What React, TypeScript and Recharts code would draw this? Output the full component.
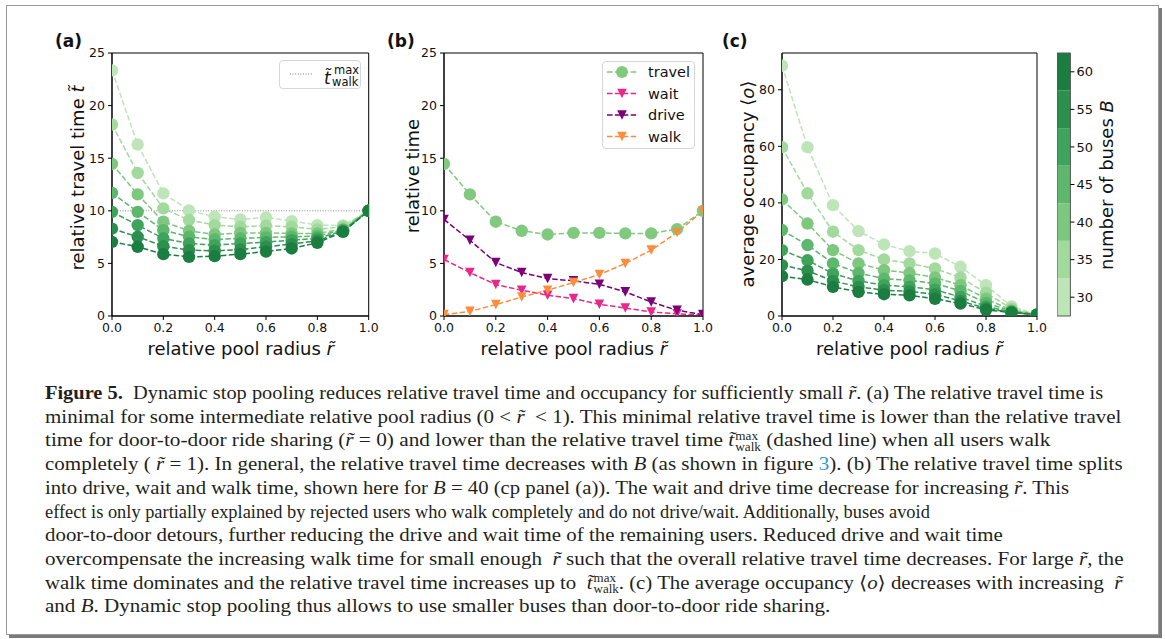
import React, { useLayoutEffect, useRef, useState } from 'react'
import { LineChart, Line, XAxis, YAxis, ReferenceLine, ReferenceArea, ComposedChart } from 'recharts'

// pool radius values (x) shared by all panels
const R = [0, 0.1, 0.2, 0.3, 0.4, 0.5, 0.6, 0.7, 0.8, 0.9, 1.0]
const X_TICKS = [0, 0.2, 0.4, 0.6, 0.8, 1.0]

// number of buses B and their colormap colours (light -> dark)
const BUSES = [30, 35, 40, 45, 50, 55, 60]
const BUS_COLORS = ['#bde5b8', '#a2d99c', '#7dc87e', '#5db76c', '#3fa45b', '#2c8f4e', '#1b7d3f']

// (a) relative travel time per B
const travelB30 = [23.35, 16.3, 11.66, 10.04, 9.43, 9.18, 9.37, 9.02, 8.64, 8.6, 10.0]
const travelB35 = [18.2, 13.6, 10.23, 9.12, 8.64, 8.48, 8.58, 8.48, 8.23, 8.5, 10.0]
const travelB40 = [14.45, 11.56, 8.96, 8.1, 7.75, 7.9, 7.9, 7.85, 7.85, 8.26, 10.0]
const travelB45 = [11.7, 9.9, 8.16, 7.53, 7.27, 7.37, 7.47, 7.53, 7.59, 8.2, 10.0]
const travelB50 = [9.9, 8.64, 7.37, 6.9, 6.73, 6.89, 7.02, 7.21, 7.37, 8.1, 10.0]
const travelB55 = [8.3, 7.53, 6.64, 6.26, 6.19, 6.32, 6.58, 6.83, 7.15, 8.05, 10.0]
const travelB60 = [7.05, 6.58, 5.88, 5.62, 5.69, 5.88, 6.13, 6.42, 6.96, 8.0, 10.0]
const T_WALK_MAX = 10

// (b) time split for B = 40
const waitB40 = [5.37, 4.13, 2.99, 2.45, 1.97, 1.65, 1.11, 0.76, 0.38, 0.22, 0.06]
const driveB40 = [9.18, 7.2, 5.08, 4.13, 3.56, 3.34, 3.02, 2.29, 1.33, 0.54, 0.13]
const walkB40 = [0.13, 0.44, 1.08, 1.81, 2.45, 3.18, 3.94, 4.99, 6.26, 7.94, 10.0]

// (c) average occupancy per B
const occB30 = [88.5, 59.7, 39.2, 30.0, 25.3, 22.9, 22.1, 17.4, 10.9, 3.4, 0.6]
const occB35 = [59.7, 43.4, 29.8, 23.3, 20.0, 18.6, 16.8, 13.6, 8.2, 2.6, 0.6]
const occB40 = [41.2, 32.7, 23.3, 18.6, 16.2, 15.2, 13.6, 10.9, 6.1, 2.0, 0.5]
const occB45 = [30.4, 25.1, 18.6, 15.2, 13.2, 12.6, 11.5, 8.9, 4.6, 1.7, 0.5]
const occB50 = [23.3, 19.7, 15.0, 12.4, 10.9, 10.3, 9.3, 6.7, 3.4, 1.4, 0.5]
const occB55 = [18.0, 16.0, 12.4, 10.3, 9.1, 8.7, 7.7, 5.3, 2.7, 1.3, 0.5]
const occB60 = [14.1, 12.9, 10.3, 8.5, 7.7, 7.3, 6.1, 4.4, 2.2, 1.2, 0.5]

const TRAVEL = [travelB30, travelB35, travelB40, travelB45, travelB50, travelB55, travelB60]
const OCC = [occB30, occB35, occB40, occB45, occB50, occB55, occB60]

const travelRows = R.map((r, i) => {
  const row: Record<string, number> = { r }
  BUSES.forEach((b, k) => (row[`b${b}`] = TRAVEL[k][i]))
  return row
})
const occRows = R.map((r, i) => {
  const row: Record<string, number> = { r }
  BUSES.forEach((b, k) => (row[`b${b}`] = OCC[k][i]))
  return row
})
const splitRows = R.map((r, i) => ({
  r,
  travel: travelB40[i],
  wait: waitB40[i],
  drive: driveB40[i],
  walk: walkB40[i],
}))

const SANS = '"DejaVu Sans", sans-serif'
const SERIF = '"Liberation Serif", "DejaVu Serif", serif'
const C_TRAVEL = '#80c97f'
const C_WAIT = '#e7298a'
const C_DRIVE = '#7a0177'
const C_WALK = '#fd8d3c'
const DASH = '5.5 2.4'

const PLOT_TOP = 53
const PLOT_H = 263
const AX_W = 60
const AX_H = 60
const PAD = 10

const tickStyle = { fontSize: 12.5, fill: '#111', fontFamily: SANS }

function TriDown(props: any) {
  const { cx, cy, fill } = props
  if (cx == null || cy == null) return null
  const h = 4.8
  return <path d={`M${cx - h},${cy - h}L${cx + h},${cy - h}L${cx},${cy + h}Z`} fill={fill} />
}

function chartBox(plotLeft: number, plotW: number) {
  return {
    style: { position: 'absolute' as const, left: plotLeft - AX_W, top: PLOT_TOP - PAD },
    width: plotW + AX_W + PAD,
    height: PLOT_H + PAD + AX_H,
    margin: { top: PAD, right: PAD, bottom: 0, left: 0 },
  }
}

function PanelA() {
  const b = chartBox(112.3, 256.7)
  return (
    <div style={b.style}>
      <LineChart width={b.width} height={b.height} data={travelRows} margin={b.margin}>
        <XAxis dataKey="r" type="number" domain={[0, 1]} ticks={X_TICKS} allowDataOverflow
          tickFormatter={(v) => v.toFixed(1)} height={AX_H} tickSize={4} tickMargin={3}
          stroke="#000" tick={tickStyle} />
        <YAxis type="number" domain={[0, 25]} ticks={[0, 5, 10, 15, 20, 25]} allowDataOverflow
          width={AX_W} tickSize={4} tickMargin={3} stroke="#000" tick={tickStyle} />
        <ReferenceLine y={T_WALK_MAX} stroke="#888" strokeDasharray="1 1.6" strokeWidth={1} />
        {BUSES.map((bus, k) => (
          <Line key={bus} dataKey={`b${bus}`} stroke={BUS_COLORS[k]} strokeWidth={1.5}
            strokeDasharray={DASH} isAnimationActive={false} activeDot={false}
            dot={{ r: 6.2, fill: BUS_COLORS[k], stroke: BUS_COLORS[k], strokeWidth: 0 }} />
        ))}
        <ReferenceArea x1={0} x2={1} y1={0} y2={25} fill="none" stroke="#000" strokeWidth={1} />
      </LineChart>
    </div>
  )
}

function PanelB() {
  const b = chartBox(444.3, 259)
  const series = [
    { key: 'travel', color: C_TRAVEL, tri: false },
    { key: 'wait', color: C_WAIT, tri: true },
    { key: 'drive', color: C_DRIVE, tri: true },
    { key: 'walk', color: C_WALK, tri: true },
  ]
  return (
    <div style={b.style}>
      <LineChart width={b.width} height={b.height} data={splitRows} margin={b.margin}>
        <XAxis dataKey="r" type="number" domain={[0, 1]} ticks={X_TICKS} allowDataOverflow
          tickFormatter={(v) => v.toFixed(1)} height={AX_H} tickSize={4} tickMargin={3}
          stroke="#000" tick={tickStyle} />
        <YAxis type="number" domain={[0, 25]} ticks={[0, 5, 10, 15, 20, 25]} allowDataOverflow
          width={AX_W} tickSize={4} tickMargin={3} stroke="#000" tick={tickStyle} />
        {series.map((s) => (
          <Line key={s.key} dataKey={s.key} stroke={s.color} strokeWidth={1.5}
            strokeDasharray={DASH} isAnimationActive={false} activeDot={false}
            dot={s.tri ? <TriDown fill={s.color} /> : { r: 6.2, fill: s.color, stroke: s.color, strokeWidth: 0 }} />
        ))}
        <ReferenceArea x1={0} x2={1} y1={0} y2={25} fill="none" stroke="#000" strokeWidth={1} />
      </LineChart>
    </div>
  )
}

function PanelC() {
  const b = chartBox(781.7, 255)
  return (
    <div style={b.style}>
      <LineChart width={b.width} height={b.height} data={occRows} margin={b.margin}>
        <XAxis dataKey="r" type="number" domain={[0, 1]} ticks={X_TICKS} allowDataOverflow
          tickFormatter={(v) => v.toFixed(1)} height={AX_H} tickSize={4} tickMargin={3}
          stroke="#000" tick={tickStyle} />
        <YAxis type="number" domain={[0, 93]} ticks={[0, 20, 40, 60, 80]} allowDataOverflow
          width={AX_W} tickSize={4} tickMargin={3} stroke="#000" tick={tickStyle} />
        {BUSES.map((bus, k) => (
          <Line key={bus} dataKey={`b${bus}`} stroke={BUS_COLORS[k]} strokeWidth={1.5}
            strokeDasharray={DASH} isAnimationActive={false} activeDot={false}
            dot={{ r: 6.2, fill: BUS_COLORS[k], stroke: BUS_COLORS[k], strokeWidth: 0 }} />
        ))}
        <ReferenceArea x1={0} x2={1} y1={0} y2={93} fill="none" stroke="#000" strokeWidth={1} />
      </LineChart>
    </div>
  )
}

const cbRows = [{ x: 0, y: 45 }, { x: 1, y: 45 }]

function ColorBar() {
  return (
    <div style={{ position: 'absolute', left: 1057.3, top: PLOT_TOP - PAD }}>
      <ComposedChart width={13.4 + 40} height={PLOT_H + 2 * PAD} data={cbRows}
        margin={{ top: PAD, right: 0, bottom: PAD, left: 0 }}>
        <XAxis dataKey="x" type="number" domain={[0, 1]} hide />
        <YAxis orientation="right" type="number" domain={[27.5, 62.5]} ticks={BUSES}
          width={40} tickSize={4} tickMargin={2} stroke="#000" axisLine={false}
          tick={{ ...tickStyle, fontSize: 13 }} />
        {BUSES.map((bus, k) => (
          <ReferenceArea key={bus} x1={0} x2={1} y1={bus - 2.5} y2={bus + 2.5}
            fill={BUS_COLORS[k]} fillOpacity={1} stroke="none" />
        ))}
        <Line dataKey="y" stroke="none" dot={false} activeDot={false} isAnimationActive={false} />
        <ReferenceArea x1={0} x2={1} y1={27.5} y2={62.5} fill="none" stroke="#555" strokeWidth={1} />
      </ComposedChart>
    </div>
  )
}

function Titles() {
  const yTitle = (x: number, y: number, content: React.ReactNode) => (
    <text transform={`translate(${x},${y}) rotate(-90)`} textAnchor="middle" fontSize={18}>{content}</text>
  )
  return (
    <svg width={1165} height={639} style={{ position: 'absolute', left: 0, top: 0, pointerEvents: 'none' }}
      fontFamily={SANS} fill="#111">
      <text x={55} y={47} fontSize={17} fontWeight="bold">(a)</text>
      <text x={387} y={47} fontSize={17} fontWeight="bold">(b)</text>
      <text x={722} y={47} fontSize={17} fontWeight="bold">(c)</text>
      {[240.7, 573.8, 909.2].map((cx) => (
        <text key={cx} x={cx} y={355} textAnchor="middle" fontSize={18}>
          relative pool radius <tspan fontStyle="italic">{'r\u0303'}</tspan>
        </text>
      ))}
      {yTitle(84, 178, <>relative travel time <tspan fontStyle="italic">{'t\u0303'}</tspan></>)}
      {yTitle(419, 176, 'relative time')}
      {yTitle(754, 184, <>average occupancy ⟨<tspan fontStyle="italic">o</tspan>⟩</>)}
      {yTitle(1113, 185, <>number of buses <tspan fontStyle="italic">B</tspan></>)}
    </svg>
  )
}

function LegendA() {
  return (
    <div style={{ position: 'absolute', left: 279, top: 60, width: 82, height: 29, boxSizing: 'border-box',
      border: '1px solid #d6d6d6', borderRadius: 4, background: 'rgba(255,255,255,0.85)', fontFamily: SANS }}>
      <svg width={82} height={29} style={{ position: 'absolute', left: -1, top: -1 }}>
        <line x1={11} x2={34} y1={14} y2={14} stroke="#777" strokeDasharray="1 1.6" strokeWidth={1} />
        <text x={45} y={24} fontSize={17} fontStyle="italic" fill="#111">{'t\u0303'}</text>
        <text x={55} y={14} fontSize={11.5} fill="#111">max</text>
        <text x={53} y={26} fontSize={11.5} fill="#111">walk</text>
      </svg>
    </div>
  )
}

function LegendB() {
  const rows = [
    { label: 'travel', color: C_TRAVEL, tri: false },
    { label: 'wait', color: C_WAIT, tri: true },
    { label: 'drive', color: C_DRIVE, tri: true },
    { label: 'walk', color: C_WALK, tri: true },
  ]
  return (
    <div style={{ position: 'absolute', left: 602, top: 61, width: 93, height: 88, boxSizing: 'border-box',
      border: '1px solid #d6d6d6', borderRadius: 4, background: 'rgba(255,255,255,0.85)' }}>
      <svg width={93} height={88} style={{ position: 'absolute', left: -1, top: -1 }} fontFamily={SANS}>
        {rows.map((row, i) => {
          const y = 11 + i * 21.5
          return (
            <g key={row.label}>
              <line x1={5} x2={35} y1={y} y2={y} stroke={row.color} strokeWidth={1.5} strokeDasharray={DASH} />
              {row.tri ? <TriDown cx={20} cy={y} fill={row.color} /> : <circle cx={20} cy={y} r={6} fill={row.color} />}
              <text x={46} y={y + 5} fontSize={14.5} fill="#111">{row.label}</text>
            </g>
          )
        })}
      </svg>
    </div>
  )
}

const r = <i>{'r\u0303'}</i>
const tWalk = (
  <span style={{ whiteSpace: 'nowrap' }}>
    <i>{'t\u0303'}</i>
    <span style={{ display: 'inline-flex', flexDirection: 'column', fontSize: '0.62em', lineHeight: 0.95,
      verticalAlign: 'middle', marginLeft: 1 }}>
      <span>max</span>
      <span>walk</span>
    </span>
  </span>
)

// caption lines and the x where each one ends in the figure
const CAPTION: React.ReactNode[] = [
  <><b>Figure 5.</b>&nbsp; Dynamic stop pooling reduces relative travel time and occupancy for sufficiently small {r}. (a) The relative travel time is</>,
  <>minimal for some intermediate relative pool radius (0 &lt; {r} &nbsp;&lt; 1). This minimal relative travel time is lower than the relative travel</>,
  <>time for door-to-door ride sharing ({r} = 0) and lower than the relative travel time {tWalk} (dashed line) when all users walk</>,
  <>completely ( {r} = 1). In general, the relative travel time decreases with <i>B</i> (as shown in figure <span style={{ color: '#1f9ad6' }}>3</span>). (b) The relative travel time splits</>,
  <>into drive, wait and walk time, shown here for <i>B</i> = 40 (cp panel (a)). The wait and drive time decrease for increasing {r}. This</>,
  <>effect is only partially explained by rejected users who walk completely and do not drive/wait. Additionally, buses avoid</>,
  <>door-to-door detours, further reducing the drive and wait time of the remaining users. Reduced drive and wait time</>,
  <>overcompensate the increasing walk time for small enough &nbsp;{r} such that the overall relative travel time decreases. For large {r}, the</>,
  <>walk time dominates and the relative travel time increases up to &nbsp;{tWalk}. (c) The average occupancy ⟨<i>o</i>⟩ decreases with increasing &nbsp;{r}</>,
  <>and <i>B</i>. Dynamic stop pooling thus allows to use smaller buses than door-to-door ride sharing.</>,
]
const CAPTION_ENDS = [1103, 1121, 1050, 1123, 1069, 930, 1003, 1123, 1122, 830]
const CAPTION_LEFT = 45

function FitLine({ width, top, children }: { width: number; top: number; children: React.ReactNode }) {
  const ref = useRef<HTMLDivElement>(null)
  const [scale, setScale] = useState(1)
  useLayoutEffect(() => {
    if (ref.current) setScale(width / ref.current.offsetWidth)
  }, [width])
  return (
    <div ref={ref} style={{ position: 'absolute', left: 0, top, height: 24, lineHeight: '24px', whiteSpace: 'nowrap',
      transform: `scaleX(${scale})`, transformOrigin: '0 0' }}>
      {children}
    </div>
  )
}

function Caption() {
  return (
    <div style={{ position: 'absolute', left: CAPTION_LEFT, top: 381, fontFamily: SERIF, fontSize: 18.5, color: '#231f20' }}>
      {CAPTION.map((line, i) => (
        <FitLine key={i} top={i * 23.7} width={CAPTION_ENDS[i] - CAPTION_LEFT}>{line}</FitLine>
      ))}
    </div>
  )
}

export default function App() {
  return (
    <div style={{ position: 'absolute', left: 0, top: 0, width: 1165, height: 639, background: '#fff', overflow: 'hidden' }}>
      <div style={{ position: 'absolute', left: 6, top: 5, width: 1151, height: 628, border: '1px solid #9a9a9a',
        boxShadow: '3px 3px 0 #7a7a7a' }} />
      <PanelA />
      <PanelB />
      <PanelC />
      <ColorBar />
      <Titles />
      <LegendA />
      <LegendB />
      <Caption />
    </div>
  )
}
